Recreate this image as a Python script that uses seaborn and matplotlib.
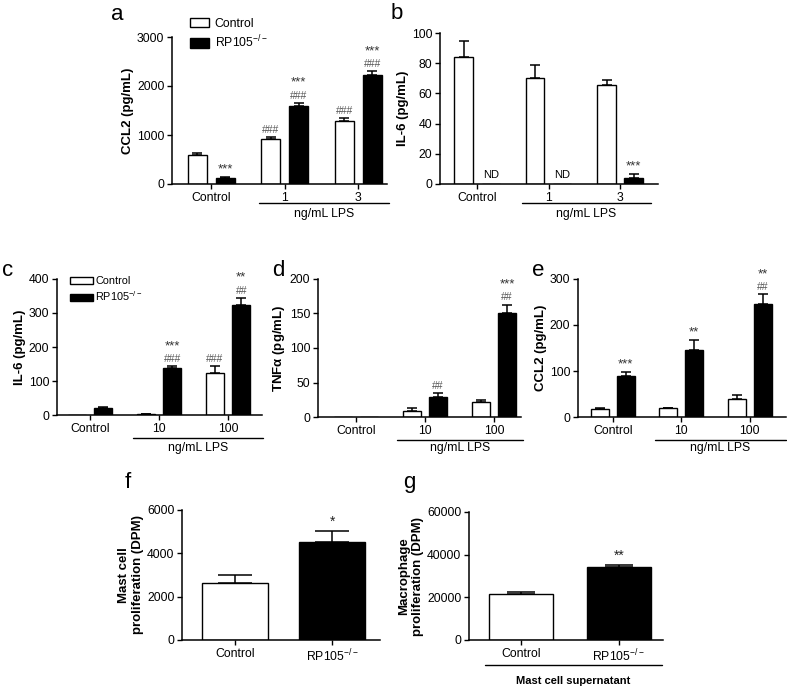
import numpy as np
import pandas as pd
import matplotlib.pyplot as plt
import seaborn as sns

sns.set_style('ticks', {'axes.edgecolor': 'black', 'xtick.color': 'black', 'ytick.color': 'black',
                        'text.color': 'black', 'axes.labelcolor': 'black'})
plt.rcParams['font.family'] = ['Liberation Sans', 'DejaVu Sans']
plt.rcParams['mathtext.default'] = 'regular'

# ---- data ----
genotypes = ['Control', 'RP105$^{-/-}$']
doses_ab = ['Control', '1', '3']
doses_cde = ['Control', '10', '100']

a_ctrl, a_ctrl_err = [600, 920, 1290], [30, 40, 60]
a_ko, a_ko_err = [130, 1590, 2220], [10, 70, 80]

b_ctrl, b_ctrl_err = [84, 70, 65.5], [11, 9, 3.5]
b_ko, b_ko_err = [0, 0, 4], [0, 0, 2.5]

c_ctrl, c_ctrl_err = [0, 2, 125], [0, 1, 20]
c_ko, c_ko_err = [22, 138, 323], [3, 5, 22]

d_ctrl, d_ctrl_err = [0, 9, 22], [0, 4, 3]
d_ko, d_ko_err = [0, 29, 150], [0, 6, 13]

e_ctrl, e_ctrl_err = [18, 19, 40], [2, 1, 8]
e_ko, e_ko_err = [90, 145, 245], [7, 22, 22]

f_vals, f_err = [2650, 4520], [330, 500]
g_vals, g_err = [21500, 34000], [1200, 1300]

# significance marks: (dose index, genotype index, labels bottom->top)
a_marks = [(0, 1, ['***']), (1, 0, ['###']), (1, 1, ['###', '***']), (2, 0, ['###']), (2, 1, ['###', '***'])]
b_marks = [(2, 1, ['***'])]
c_marks = [(1, 1, ['###', '***']), (2, 0, ['###']), (2, 1, ['##', '**'])]
d_marks = [(1, 1, ['##']), (2, 1, ['##', '***'])]
e_marks = [(0, 1, ['***']), (1, 1, ['**']), (2, 1, ['##', '**'])]
f_marks = [(1, 0, ['*'])]
g_marks = [(1, 0, ['**'])]

W, H = 787, 687
fig = plt.figure(figsize=(W / 100, H / 100), dpi=100)


def add_ax(box):
    x0, y0, x1, y1 = box
    return fig.add_axes([x0 / W, 1 - y1 / H, (x1 - x0) / W, (y1 - y0) / H])


def style(ax, ylim, yticks, ylabel, xlim):
    ax.set_ylim(*ylim)
    ax.set_yticks(yticks)
    ax.set_xlim(*xlim)
    ax.set_ylabel(ylabel, fontsize=9.5, fontweight='bold', labelpad=2)
    ax.set_xlabel('')
    sns.despine(ax=ax)
    for s in ['left', 'bottom']:
        ax.spines[s].set_linewidth(1.1)
    ax.tick_params(axis='both', labelsize=8.8, width=1.0, length=3.5, pad=2)


def errbars(ax, errs, capsize):
    for cont, err in zip(ax.containers, errs):
        for bar, e in zip(cont, err):
            if e <= 0:
                continue
            x = bar.get_x() + bar.get_width() / 2
            y = bar.get_height()
            ax.errorbar([x], [y], yerr=[[0], [e]], fmt='none', ecolor='black',
                        elinewidth=1.1, capsize=capsize, capthick=1.1, zorder=1)


def marks(ax, errs, mark_list, step=8.5, fs_star=9.5, fs_hash=7.5):
    for gi, hi, labels in mark_list:
        bar = ax.containers[hi][gi]
        x = bar.get_x() + bar.get_width() / 2
        y = bar.get_height() + errs[hi][gi]
        off = 1.5
        for lab in labels:
            star = lab.startswith('*')
            ax.annotate(lab, (x, y), xytext=(0, off), textcoords='offset points',
                        ha='center', va='bottom', fontsize=fs_star if star else fs_hash,
                        color='#333333' if star else '#555555')
            off += step


def grouped(box, doses, ctrl, ko, ctrl_err, ko_err, xlim, ylim, yticks, ylabel, mark_list, capsize=3):
    ax = add_ax(box)
    df = pd.DataFrame({'dose': doses * 2,
                       'genotype': [genotypes[0]] * 3 + [genotypes[1]] * 3,
                       'value': ctrl + ko})
    sns.barplot(data=df, x='dose', y='value', hue='genotype', order=doses, hue_order=genotypes,
                palette=['white', 'black'], edgecolor='black', linewidth=1.0, width=0.76, gap=0.32,
                errorbar=None, legend=False, ax=ax)
    errs = [ctrl_err, ko_err]
    errbars(ax, errs, capsize)
    marks(ax, errs, mark_list)
    style(ax, ylim, yticks, ylabel, xlim)
    return ax


def bracket(ax, box, x0, x1, y_line_px, y_text_px, label, bold=False, fs=8.8):
    bottom, height = box[3], box[3] - box[1]
    tr = ax.get_xaxis_transform()
    yl = (bottom - y_line_px) / height
    yt = (bottom - y_text_px) / height
    ax.plot([x0, x1], [yl, yl], color='black', lw=1.0, transform=tr, clip_on=False)
    ax.text((x0 + x1) / 2, yt, label, transform=tr, ha='center', va='center', fontsize=fs,
            fontweight='bold' if bold else 'normal')


def legend_patches(ax, anchor, fs, hl, hh, pad):
    from matplotlib.patches import Patch
    handles = [Patch(facecolor='white', edgecolor='black', linewidth=1.0),
               Patch(facecolor='black', edgecolor='black', linewidth=1.0)]
    ax.legend(handles, genotypes, loc='upper left', bbox_to_anchor=anchor, frameon=False,
              fontsize=fs, handlelength=hl, handleheight=hh, handletextpad=pad,
              labelspacing=0.3, borderaxespad=0, borderpad=0)


# ---- panel a ----
box_a = (172, 37, 387, 184)
ax_a = grouped(box_a, doses_ab, a_ctrl, a_ko, a_ctrl_err, a_ko_err, (-0.53, 2.39), (0, 3000),
               [0, 1000, 2000, 3000], 'CCL2 (pg/mL)', a_marks, capsize=3.5)
bracket(ax_a, box_a, 0.65, 2.42, 203, 214, 'ng/mL LPS')
legend_patches(ax_a, (0.085, 1.13), 8.8, 1.5, 0.8, 0.5)

# ---- panel b ----
box_b = (440, 33, 658, 184)
ax_b = grouped(box_b, doses_ab, b_ctrl, b_ko, b_ctrl_err, b_ko_err, (-0.52, 2.53), (0, 100),
               [0, 20, 40, 60, 80, 100], 'IL-6 (pg/mL)', b_marks, capsize=3.5)
for gi in [0, 1]:
    bar = ax_b.containers[1][gi]
    ax_b.text(bar.get_x() + bar.get_width() / 2, 6, 'ND', ha='center', va='center', fontsize=8)
bracket(ax_b, box_b, 0.63, 2.43, 203, 214, 'ng/mL LPS')

# ---- panel c ----
box_c = (57, 279, 262, 415)
ax_c = grouped(box_c, doses_cde, c_ctrl, c_ko, c_ctrl_err, c_ko_err, (-0.48, 2.49), (0, 400),
               [0, 100, 200, 300, 400], 'IL-6 (pg/mL)', c_marks, capsize=3.5)
bracket(ax_c, box_c, 0.62, 2.5, 438, 448, 'ng/mL LPS')
legend_patches(ax_c, (0.065, 1.02), 7.8, 2.1, 0.65, 0.2)

# ---- panel d ----
box_d = (318, 279, 521, 417)
ax_d = grouped(box_d, doses_cde, d_ctrl, d_ko, d_ctrl_err, d_ko_err, (-0.55, 2.39), (0, 200),
               [0, 50, 100, 150, 200], 'TNF$\\alpha$ (pg/mL)', d_marks, capsize=3.5)
bracket(ax_d, box_d, 0.6, 2.42, 440, 448, 'ng/mL LPS')

# ---- panel e ----
box_e = (578, 279, 786, 417)
ax_e = grouped(box_e, doses_cde, e_ctrl, e_ko, e_ctrl_err, e_ko_err, (-0.51, 2.53), (0, 300),
               [0, 100, 200, 300], 'CCL2 (pg/mL)', e_marks, capsize=3.5)
bracket(ax_e, box_e, 0.61, 2.53, 440, 448, 'ng/mL LPS')


# ---- panels f, g ----
def single(box, vals, err, width, xlim, ylim, yticks, ylabel, mark_list, capsize):
    ax = add_ax(box)
    df = pd.DataFrame({'genotype': genotypes, 'value': vals})
    sns.barplot(data=df, x='genotype', y='value', hue='genotype', order=genotypes, hue_order=genotypes,
                palette=['white', 'black'], edgecolor='black', linewidth=1.0, width=width,
                errorbar=None, legend=False, dodge=False, ax=ax)
    bars = [p for p in ax.patches]
    for bar, e in zip(bars, err):
        x = bar.get_x() + bar.get_width() / 2
        ax.errorbar([x], [bar.get_height()], yerr=[[0], [e]], fmt='none', ecolor='black',
                    elinewidth=1.1, capsize=capsize, capthick=1.1, zorder=1)
    for gi, _, labels in mark_list:
        bar = bars[gi]
        ax.annotate(labels[0], (bar.get_x() + bar.get_width() / 2, bar.get_height() + err[gi]),
                    xytext=(0, 1.5), textcoords='offset points', ha='center', va='bottom',
                    fontsize=10, color='#222222')
    style(ax, ylim, yticks, ylabel, xlim)
    return ax


box_f = (182, 510, 380, 640)
ax_f = single(box_f, f_vals, f_err, 0.68, (-0.55, 1.49), (0, 6000), [0, 2000, 4000, 6000],
              'Mast cell\nproliferation (DPM)', f_marks, capsize=12)

box_g = (469, 512, 663, 640)
ax_g = single(box_g, g_vals, g_err, 0.66, (-0.53, 1.45), (0, 60000), [0, 20000, 40000, 60000],
              'Macrophage\nproliferation (DPM)', g_marks, capsize=10)
bracket(ax_g, box_g, -0.37, 1.44, 665, 681, 'Mast cell supernatant', bold=True, fs=8)

# ---- panel letters ----
for letter, (x, y) in zip('abcdefg', [(111, 20), (391, 19), (2, 276), (272, 276), (532, 276),
                                       (125, 488), (403, 488)]):
    fig.text(x / W, 1 - y / H, letter, fontsize=16, ha='left', va='baseline')

fig.savefig('out.png', dpi=100)
